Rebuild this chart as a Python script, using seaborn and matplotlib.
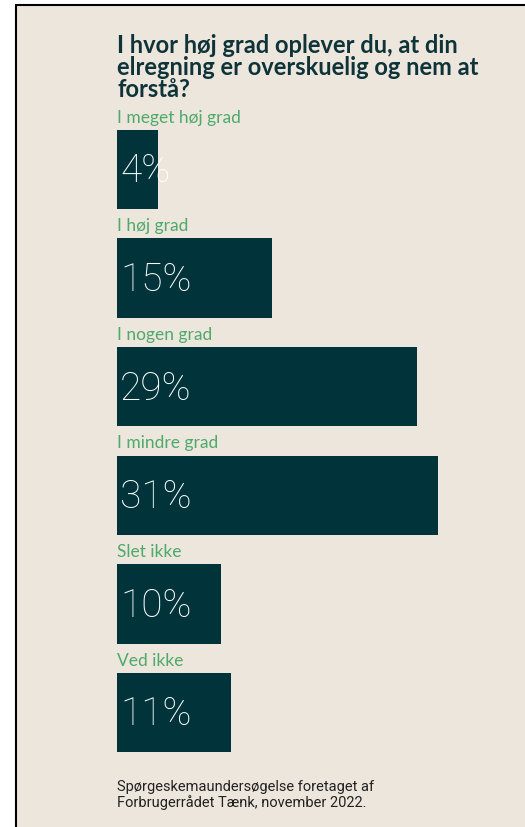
import matplotlib
matplotlib.use('Agg')
import matplotlib.pyplot as plt
import matplotlib.patches as mpatches
import pandas as pd
import seaborn as sns

# Data
categories = ['I meget høj grad', 'I høj grad', 'I nogen grad', 'I mindre grad', 'Slet ikke', 'Ved ikke']
values = [4, 15, 29, 31, 10, 11]

title = 'I hvor høj grad oplever du, at din\nelregning er overskuelig og nem at\nforstå?'
footer = 'Spørgeskemaundersøgelse foretaget af\nForbrugerrådet Tænk, november 2022.'

bg = '#EDE6DD'
bar_color = '#00333A'
label_color = '#4DAA6A'
title_color = '#0E3338'

df = pd.DataFrame({'cat': categories, 'val': values})

sns.set_theme(style='white')
plt.rcParams['font.family'] = ['Lato', 'DejaVu Sans']

W, H = 525, 827
fig = plt.figure(figsize=(W / 100, H / 100), dpi=100)
fig.patch.set_facecolor('white')

# beige panel with black frame on left and top
fig.patches.append(mpatches.Rectangle((16 / W, 0), 1 - 16 / W, 1 - 5 / H, transform=fig.transFigure,
                                      facecolor=bg, edgecolor='none', zorder=-5))
fig.add_artist(plt.Line2D([16 / W, 16 / W], [0, 1 - 5 / H], color='black', lw=1.5, transform=fig.transFigure))
fig.add_artist(plt.Line2D([16 / W, 1], [1 - 5 / H, 1 - 5 / H], color='black', lw=1.5, transform=fig.transFigure))

# axes for bars
px_per_pct = 10.35
ax_left, ax_w = 117, 400
top, bottom = 115.2, 766.8
ax = fig.add_axes([ax_left / W, 1 - bottom / H, ax_w / W, (bottom - top) / H])
ax.set_facecolor('none')
ax.set_zorder(2)

sns.barplot(data=df, y='cat', x='val', orient='h', color=bar_color, width=0.73,
            saturation=1, linewidth=0, ax=ax)
ax.set_xlim(0, ax_w / px_per_pct)
ax.set_ylim(len(categories) - 0.5, -0.5)
ax.axis('off')

for i, (c, v) in enumerate(zip(categories, values)):
    ax.text(0.0, i - 0.365 - 0.04, c, color=label_color, fontsize=12.5,
            ha='left', va='bottom')
    ax.text(0.3, i + 0.02, f'{v}%', color='white', fontsize=28, fontweight='light',
            ha='left', va='center', family=['Roboto', 'DejaVu Sans'])

fig.text(117 / W, 1 - 34 / H, title, color=title_color, fontsize=17, fontweight='bold',
         ha='left', va='top', linespacing=0.95)

fig.text(117 / W, 1 - 780 / H, footer, color='#222222', fontsize=10.5,
         ha='left', va='top', family=['Roboto', 'DejaVu Sans'], linespacing=1.1)

fig.savefig('out.png', dpi=100, facecolor=fig.get_facecolor())
